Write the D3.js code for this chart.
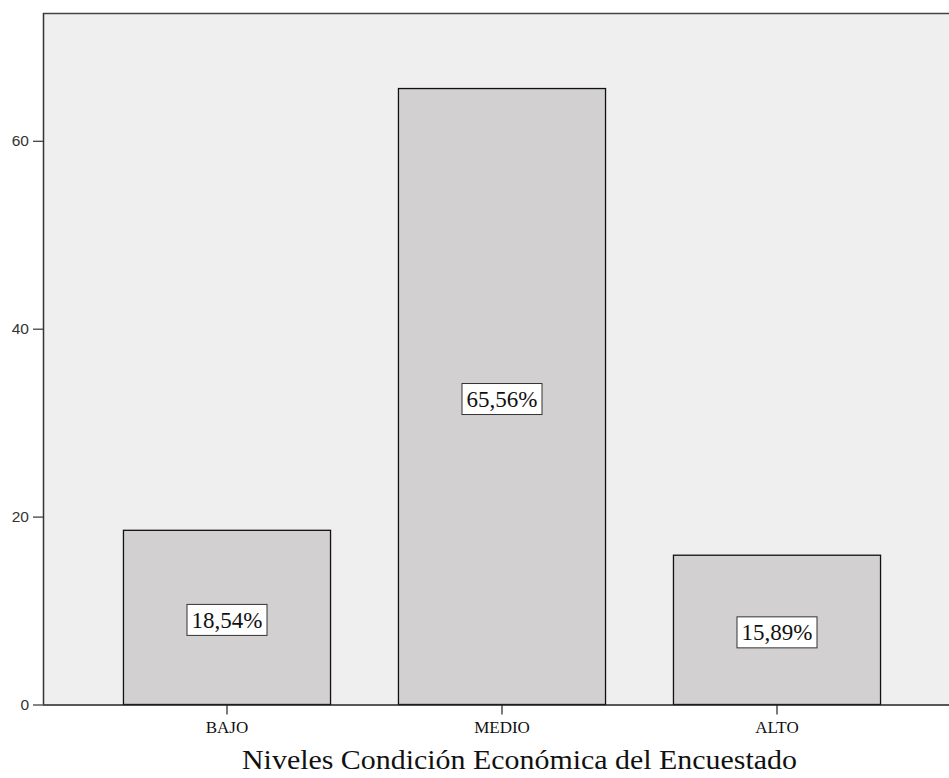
<!DOCTYPE html>
<html>
<head>
<meta charset="utf-8">
<script src="https://cdn.jsdelivr.net/npm/d3@7"></script>
<style>
  html, body { margin: 0; padding: 0; background: #ffffff; }
  svg { display: block; }
</style>
</head>
<body>
<svg id="chart" width="949" height="778"></svg>
<script>
const categories = ["BAJO", "MEDIO", "ALTO"];
const values = [18.54, 65.56, 15.89];
const valueLabels = ["18,54%", "65,56%", "15,89%"];
const yTicks = [0, 20, 40, 60];
const xTitle = "Niveles Condición Económica del Encuestado";

const W = 949, H = 778;
const plot = { left: 43, top: 13, right: 949, bottom: 704.5 };

const svg = d3.select("#chart");

const x = d3.scaleBand()
  .domain(categories)
  .range([89.5, 914.5])
  .paddingInner(0.247)
  .paddingOuter(0.1235);

const y = d3.scaleLinear()
  .domain([0, 73.6])
  .range([plot.bottom, plot.top]);

// plot background
svg.append("rect")
  .attr("x", plot.left).attr("y", plot.top)
  .attr("width", plot.right - plot.left)
  .attr("height", plot.bottom - plot.top)
  .attr("fill", "#efefef");

// top border
svg.append("line")
  .attr("x1", plot.left).attr("x2", plot.right)
  .attr("y1", plot.top + 0.5).attr("y2", plot.top + 0.5)
  .attr("stroke", "#444").attr("stroke-width", 1.5);

// bars
const bars = svg.append("g").selectAll("g")
  .data(categories.map((c, i) => ({ c, v: values[i], lab: valueLabels[i] })))
  .join("g");

bars.append("rect")
  .attr("x", d => x(d.c))
  .attr("y", d => y(d.v))
  .attr("width", x.bandwidth())
  .attr("height", d => y(0) - y(d.v))
  .attr("fill", "#d2d0d1")
  .attr("stroke", "#111")
  .attr("stroke-width", 1.3);

// value label boxes
const boxW = 80, boxH = 31;
bars.append("rect")
  .attr("x", d => x(d.c) + x.bandwidth() / 2 - boxW / 2)
  .attr("y", d => (y(d.v) + y(0)) / 2 + 2.5 - boxH / 2)
  .attr("width", boxW).attr("height", boxH)
  .attr("fill", "#ffffff")
  .attr("stroke", "#333")
  .attr("stroke-width", 1);

bars.append("text")
  .attr("x", d => x(d.c) + x.bandwidth() / 2)
  .attr("y", d => (y(d.v) + y(0)) / 2 + 2.5)
  .attr("dy", "0.35em")
  .attr("text-anchor", "middle")
  .attr("font-family", "'Liberation Serif', 'Times New Roman', serif")
  .attr("font-size", 23)
  .attr("fill", "#111")
  .text(d => d.lab);

// y axis
const yAxis = svg.append("g")
  .attr("transform", `translate(${plot.left},0)`)
  .call(d3.axisLeft(y).tickValues(yTicks).tickSize(10).tickPadding(4).tickSizeOuter(0));
yAxis.select(".domain").attr("stroke", "#333").attr("stroke-width", 1.5)
  .attr("d", `M0.5,${plot.top}V${plot.bottom}`);
yAxis.selectAll(".tick line").attr("stroke", "#333").attr("stroke-width", 1.2);
yAxis.selectAll(".tick text")
  .attr("font-family", "'Liberation Sans', Arial, sans-serif")
  .attr("font-size", 15.5)
  .attr("fill", "#333");

// x axis
const xAxis = svg.append("g")
  .attr("transform", `translate(0,${plot.bottom})`)
  .call(d3.axisBottom(x).tickSize(10).tickPadding(6).tickSizeOuter(0));
xAxis.select(".domain").attr("stroke", "#222").attr("stroke-width", 1.5)
  .attr("d", `M${plot.left},0.5H${plot.right}`);
xAxis.selectAll(".tick line").attr("stroke", "#222").attr("stroke-width", 1.2);
xAxis.selectAll(".tick text")
  .attr("font-family", "'Liberation Serif', 'Times New Roman', serif")
  .attr("font-size", 17)
  .attr("fill", "#111");

// x title
svg.append("text")
  .attr("x", 519.5)
  .attr("y", 769)
  .attr("text-anchor", "middle")
  .attr("font-family", "'Liberation Serif', 'Times New Roman', serif")
  .attr("font-size", 27)
  .attr("fill", "#111")
  .attr("textLength", 555)
  .attr("lengthAdjust", "spacingAndGlyphs")
  .text(xTitle);
</script>
</body>
</html>
